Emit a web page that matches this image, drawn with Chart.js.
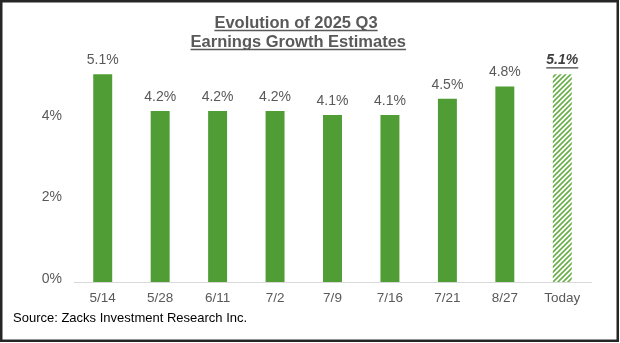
<!DOCTYPE html>
<html>
<head>
    <title>Q3 Earnings Growth Estimates</title>
    <script src="https://cdn.jsdelivr.net/npm/chart.js"></script>
    <style>
        html, body { margin: 0; padding: 0; background: #fff; }
        #wrap { width: 620px; height: 343px; }
    </style>
</head>
<body>
    <div id="wrap"><canvas id="growthChart" width="620" height="343"></canvas></div>
    <script>
        // data
        var dates = ['5/14', '5/28', '6/11', '7/2', '7/9', '7/16', '7/21', '8/27', 'Today'];
        var growth = [5.1, 4.2, 4.2, 4.2, 4.1, 4.1, 4.5, 4.8, 5.1];
        var yTicks = [0, 2, 4];
        var titleLines = ['Evolution of 2025 Q3', ' Earnings Growth Estimates'];
        var sourceText = 'Source: Zacks Investment Research Inc.';

        var FONT = "'Liberation Sans', Arial, sans-serif";
        var GREEN = '#4f9d34';
        var GRAY = '#595959';

        // hatch for the "Today" bar
        function makeHatch() {
            var c = document.createElement('canvas');
            c.width = 5; c.height = 5;
            var g = c.getContext('2d');
            g.fillStyle = '#ffffff';
            g.fillRect(0, 0, 5, 5);
            g.strokeStyle = '#6aae48';
            g.lineWidth = 1.6;
            g.beginPath();
            g.moveTo(-1, 6); g.lineTo(6, -1);
            g.moveTo(-1, 1); g.lineTo(1, -1);
            g.moveTo(4, 6); g.lineTo(6, 4);
            g.stroke();
            return g.createPattern(c, 'repeat');
        }

        var ctx = document.getElementById('growthChart').getContext('2d');
        var hatch = makeHatch();
        var barColors = dates.map(function (d) { return d === 'Today' ? hatch : GREEN; });

        // title, source, border, value labels
        var decor = {
            id: 'decor',
            afterDraw: function (chart) {
                var c = chart.ctx;
                c.save();
                // title
                c.fillStyle = GRAY;
                c.strokeStyle = GRAY;
                c.font = 'bold 16.5px ' + FONT;
                c.textAlign = 'center';
                c.textBaseline = 'alphabetic';
                var cx = 296;
                var ys = [28, 47];
                titleLines.forEach(function (t, i) {
                    c.fillText(t, cx, ys[i]);
                    var w = c.measureText(t.trim()).width;
                    var lead = t.length - t.trimStart().length > 0 ? c.measureText(' ').width / 2 : 0;
                    c.lineWidth = 1.3;
                    c.beginPath();
                    c.moveTo(cx - w / 2 + lead, ys[i] + 2.5);
                    c.lineTo(cx + w / 2 + lead, ys[i] + 2.5);
                    c.stroke();
                });

                // value labels
                var meta = chart.getDatasetMeta(0);
                meta.data.forEach(function (bar, i) {
                    var txt = growth[i].toFixed(1) + '%';
                    c.textAlign = 'center';
                    c.textBaseline = 'middle';
                    if (dates[i] === 'Today') {
                        c.font = 'italic bold 14px ' + FONT;
                        c.fillStyle = '#404040';
                        c.fillText(txt, bar.x, bar.y - 14);
                        var w = c.measureText(txt).width;
                        c.strokeStyle = '#404040';
                        c.lineWidth = 1.2;
                        c.beginPath();
                        c.moveTo(bar.x - w / 2, bar.y - 6.5);
                        c.lineTo(bar.x + w / 2, bar.y - 6.5);
                        c.stroke();
                    } else {
                        c.font = '14px ' + FONT;
                        c.fillStyle = GRAY;
                        c.fillText(txt, bar.x, bar.y - 14);
                    }
                });

                // source
                c.font = '13px ' + FONT;
                c.fillStyle = '#000';
                c.textAlign = 'left';
                c.fillText(sourceText, 13, 318);

                // outer frame
                c.strokeStyle = '#262626';
                c.lineWidth = 2.5;
                c.strokeRect(1.25, 1.25, 620 - 3.5, 343 - 3.5);
                c.restore();
            }
        };

        var chart = new Chart(ctx, {
            type: 'bar',
            data: {
                labels: dates,
                datasets: [{
                    data: growth,
                    backgroundColor: barColors,
                    borderWidth: 0,
                    barPercentage: 0.33,
                    categoryPercentage: 1.0
                }]
            },
            options: {
                responsive: false,
                animation: false,
                layout: { padding: { top: 58, right: 29, bottom: 0, left: 0 } },
                plugins: {
                    legend: { display: false },
                    tooltip: { enabled: false }
                },
                scales: {
                    x: {
                        grid: { display: false, drawTicks: false },
                        border: { display: true, color: '#d9d9d9', width: 1 },
                        ticks: { color: GRAY, font: { family: FONT, size: 13.5 }, padding: 8 },
                        afterFit: function (s) { s.height = 61; }
                    },
                    y: {
                        min: 0,
                        max: 5.5,
                        afterBuildTicks: function (s) {
                            s.ticks = yTicks.map(function (v) { return { value: v }; });
                        },
                        grid: { display: false, drawTicks: false },
                        border: { display: false },
                        ticks: {
                            color: GRAY,
                            font: { family: FONT, size: 14 },
                            padding: 12,
                            labelOffset: -3,
                            callback: function (v) { return v + '%'; }
                        },
                        afterFit: function (s) { s.width = 74; }
                    }
                }
            },
            plugins: [decor]
        });
    </script>
</body>
</html>
